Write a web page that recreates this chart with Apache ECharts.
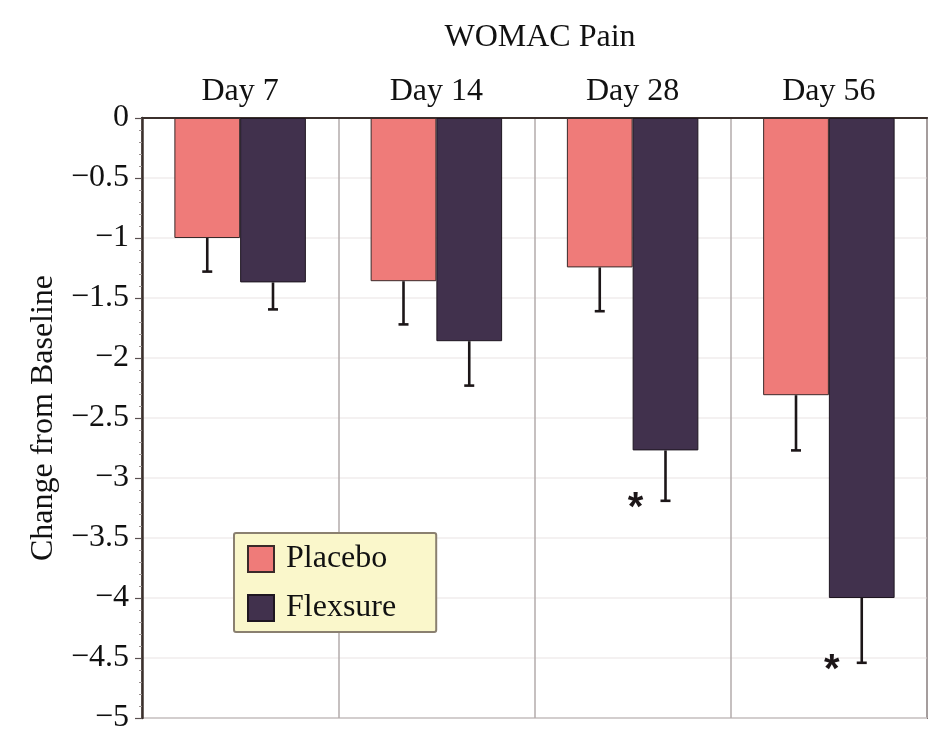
<!DOCTYPE html>
<html>
<head>
<meta charset="utf-8">
<script src="https://cdn.jsdelivr.net/npm/echarts@6/dist/echarts.min.js"></script>
<style>html,body{margin:0;padding:0;background:#fff;}#c{width:941px;height:744px;}</style>
</head>
<body>
<div id="c"></div>
<script>
const categories = ['Day 7', 'Day 14', 'Day 28', 'Day 56'];
const placebo = [-1.0, -1.36, -1.245, -2.31];
const placeboSE = [0.28, 0.36, 0.365, 0.46];
const flexsure = [-1.37, -1.86, -2.77, -4.0];
const flexsureSE = [0.225, 0.37, 0.42, 0.54];
const flexsureSig = ['', '', '*', '*'];
const yTicks = { min: -5, max: 0, interval: 0.5 };

const FONT = '"Liberation Serif", "Times New Roman", serif';
const GAP = 0.33;

function errData(vals, se, sig) {
  return vals.map((v, i) => [i, v, v - se[i], sig ? sig[i] : '']);
}

function makeErr(side) {
  return function (params, api) {
    const idx = api.value(0);
    const top = api.coord([idx, api.value(1)]);
    const bot = api.coord([idx, api.value(2)]);
    const cw = api.size([1, 0])[0];
    const bw = cw * (1 - GAP) / 2;
    const x = top[0] + side * bw / 2;
    const children = [
      { type: 'line', shape: { x1: x, y1: top[1], x2: x, y2: bot[1] }, style: { stroke: '#1c1618', lineWidth: 2.6 } },
      { type: 'line', shape: { x1: x - 5, y1: bot[1], x2: x + 5, y2: bot[1] }, style: { stroke: '#1c1618', lineWidth: 2.6 } }
    ];
    const s = api.value(3);
    if (s) {
      children.push({ type: 'text', style: { text: s, x: x - 30, y: bot[1] + 8, align: 'center', verticalAlign: 'middle', font: 'bold 40px "Liberation Sans", sans-serif', fill: '#1c1618' } });
    }
    return { type: 'group', children: children };
  };
}

const chart = echarts.init(document.getElementById('c'), null, { renderer: 'canvas' });
chart.setOption({
  animation: false,
  backgroundColor: '#ffffff',
  title: {
    text: 'WOMAC Pain',
    left: 535, top: 17, textAlign: 'center',
    textStyle: { fontFamily: FONT, fontSize: 32, fontWeight: 'normal', color: '#111' }
  },
  legend: {
    orient: 'vertical',
    left: 234, top: 533,
    padding: [10, 40, 8, 13],
    itemGap: 17,
    itemWidth: 26, itemHeight: 26,
    icon: 'rect',
    backgroundColor: '#faf7cb',
    borderColor: '#8a8070',
    borderWidth: 2,
    borderRadius: 2,
    textStyle: { fontFamily: FONT, fontSize: 32, color: '#111', padding: [0, 0, 0, 7] },
    data: ['Placebo', 'Flexsure']
  },
  grid: {
    left: 142, right: 14, top: 118, bottom: 26,
    show: true, borderColor: '#7d7373', borderWidth: 2, backgroundColor: 'transparent'
  },
  xAxis: {
    type: 'category',
    position: 'top',
    data: categories,
    axisLine: { show: true, lineStyle: { color: '#3b302c', width: 2 } },
    axisTick: { show: false },
    axisLabel: { fontFamily: FONT, fontSize: 32, color: '#111', margin: 10 },
    splitLine: { show: true, lineStyle: { color: '#b3abab', width: 1.5 } }
  },
  yAxis: {
    type: 'value',
    min: yTicks.min, max: yTicks.max, interval: yTicks.interval,
    name: 'Change from Baseline',
    nameLocation: 'middle',
    nameGap: 82,
    nameRotate: 90,
    nameTextStyle: { fontFamily: FONT, fontSize: 32, color: '#111' },
    axisLine: { show: true, onZero: false, lineStyle: { color: '#3b302c', width: 2.5 } },
    axisTick: { show: true, length: 7, lineStyle: { color: '#5a5050', width: 1.2 } },
    minorTick: { show: true, splitNumber: 5, length: 3, lineStyle: { color: '#9a9090', width: 1 } },
    axisLabel: {
      fontFamily: FONT, fontSize: 32, color: '#111', margin: 13,
      formatter: v => (v < 0 ? '\u2212' + String(Math.abs(v)) : String(v))
    },
    splitLine: { show: true, lineStyle: { color: '#f1eded', width: 1.5 } }
  },
  series: [
    {
      name: 'Placebo', type: 'bar', data: placebo,
      barGap: '0%', barCategoryGap: (GAP * 100) + '%',
      itemStyle: { color: '#ef7b79', borderColor: '#3a2a2a', borderWidth: 1 },
      z: 2
    },
    {
      name: 'Flexsure', type: 'bar', data: flexsure,
      barGap: '0%', barCategoryGap: (GAP * 100) + '%',
      itemStyle: { color: '#41314d', borderColor: '#1e1620', borderWidth: 1 },
      z: 2
    },
    {
      name: 'PlaceboErr', type: 'custom', renderItem: makeErr(-1),
      data: errData(placebo, placeboSE), z: 3, silent: true
    },
    {
      name: 'FlexsureErr', type: 'custom', renderItem: makeErr(1),
      data: errData(flexsure, flexsureSE, flexsureSig), z: 3, silent: true
    }
  ]
});
</script>
</body>
</html>
